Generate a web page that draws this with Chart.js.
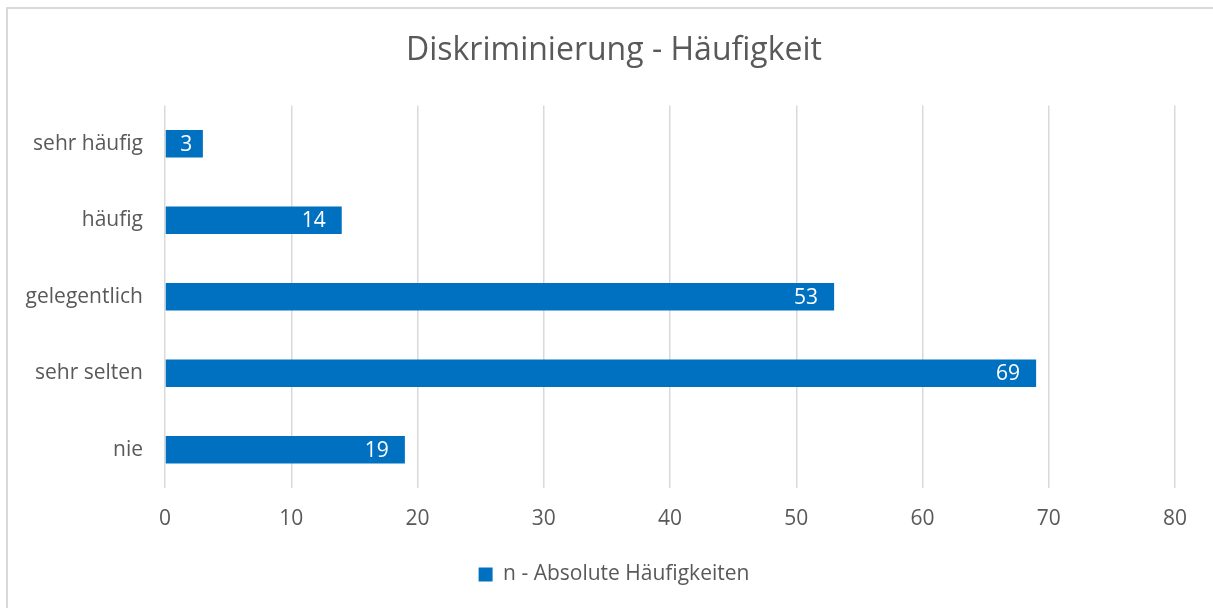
<!DOCTYPE html>
<html>
<head>
<meta charset="utf-8">
<script src="https://cdn.jsdelivr.net/npm/chart.js@4.4.0/dist/chart.umd.min.js"></script>
<style>
    html, body { margin: 0; padding: 0; background: #fff; }
    #frame {
        position: absolute; left: 6px; top: 7px; right: -10px; bottom: -10px;
        border: 2px solid #d9d9d9;
    }
    #wrap { position: absolute; left: 0; top: 0; width: 1213px; height: 608px; }
</style>
</head>
<body>
<div id="frame"></div>
<div id="wrap"><canvas id="diskChart"></canvas></div>
<script>
    const categories = ['sehr häufig', 'häufig', 'gelegentlich', 'sehr selten', 'nie'];
    const counts = [3, 14, 53, 69, 19];
    const xTicks = [0, 10, 20, 30, 40, 50, 60, 70, 80];
    const seriesName = 'n - Absolute Häufigkeiten';

    const FONT = "'Open Sans', sans-serif";
    Chart.defaults.font.family = FONT;
    Chart.defaults.color = '#595959';

    // labels inside the bar end, like Excel does it
    const barLabels = {
        id: 'barLabels',
        afterDatasetsDraw(chart) {
            const ctx = chart.ctx;
            const meta = chart.getDatasetMeta(0);
            ctx.save();
            ctx.font = '21px ' + FONT;
            ctx.fillStyle = '#ffffff';
            ctx.textBaseline = 'middle';
            meta.data.forEach(function(bar, i) {
                const txt = String(counts[i]);
                const w = ctx.measureText(txt).width;
                const barW = bar.x - bar.base;
                if (w + 32 > barW) {
                    ctx.textAlign = 'center';
                    ctx.fillText(txt, (bar.x + bar.base) / 2 + 2, bar.y + 1);
                } else {
                    ctx.textAlign = 'right';
                    ctx.fillText(txt, bar.x - 16, bar.y + 1);
                }
            });
            ctx.restore();
        }
    };

    const ctx = document.getElementById('diskChart').getContext('2d');
    new Chart(ctx, {
        type: 'bar',
        data: {
            labels: categories,
            datasets: [{
                label: seriesName,
                data: counts,
                backgroundColor: '#0070c0',
                borderWidth: 0,
                categoryPercentage: 1,
                barPercentage: 0.36
            }]
        },
        options: {
            indexAxis: 'y',
            responsive: true,
            maintainAspectRatio: false,
            animation: false,
            layout: {
                padding: { left: 53, right: 38, top: 0, bottom: 13 }
            },
            scales: {
                x: {
                    min: 0,
                    max: 80,
                    afterBuildTicks: function(scale) {
                        scale.ticks = xTicks.map(v => ({ value: v }));
                    },
                    afterFit: function(scale) { scale.height = 66; },
                    grid: { color: '#d9d9d9', lineWidth: 1.5, drawTicks: false },
                    border: { display: false },
                    ticks: { padding: 18, font: { size: 21 }, color: '#595959' }
                },
                y: {
                    afterFit: function(scale) {
                        scale.width = 112;
                        // let the long category names run past the scale box
                        scale._computeLabelArea = function() { return undefined; };
                    },
                    grid: { display: false, drawTicks: false },
                    border: { display: false },
                    ticks: { padding: 22, font: { size: 21 }, color: '#595959' }
                }
            },
            plugins: {
                title: {
                    display: true,
                    text: 'Diskriminierung - Häufigkeit',
                    color: '#595959',
                    font: { size: 32, weight: 'normal' },
                    padding: { top: 32, bottom: 35 }
                },
                legend: {
                    position: 'bottom',
                    labels: {
                        boxWidth: 14,
                        boxHeight: 14,
                        padding: 10,
                        color: '#595959',
                        font: { size: 21 }
                    }
                },
                tooltip: { enabled: false }
            }
        },
        plugins: [barLabels]
    });
</script>
</body>
</html>
